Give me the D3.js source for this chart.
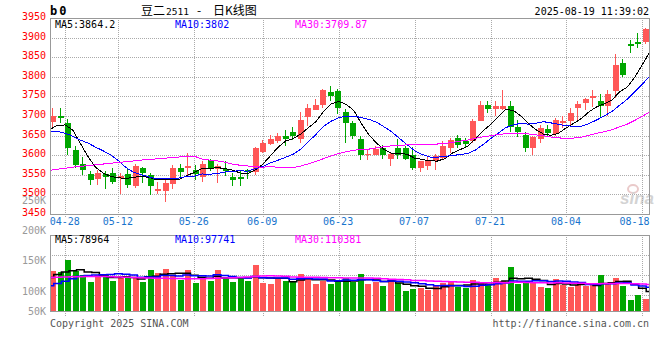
<!DOCTYPE html>
<html>
<head>
<meta charset="utf-8">
<script src="https://cdn.jsdelivr.net/npm/d3@7"></script>
<style>
body { margin: 0; background: #fff; }
svg { display: block; }
</style>
</head>
<body>
<svg width="660" height="360"></svg>
<script>
// trading days shown on the chart
var dates = ["04-24","04-25","04-28","04-29","04-30","05-06","05-07","05-08","05-09","05-12",
  "05-13","05-14","05-15","05-16","05-19","05-20","05-21","05-22","05-23","05-26",
  "05-27","05-28","05-29","05-30","06-03","06-04","06-05","06-06","06-09","06-10",
  "06-11","06-12","06-13","06-16","06-17","06-18","06-19","06-20","06-23","06-24",
  "06-25","06-26","06-27","06-30","07-01","07-02","07-03","07-04","07-07","07-08",
  "07-09","07-10","07-11","07-14","07-15","07-16","07-17","07-18","07-21","07-22",
  "07-23","07-24","07-25","07-28","07-29","07-30","07-31","08-01","08-04","08-05",
  "08-06","08-07","08-08","08-11","08-12","08-13","08-14","08-15","08-18","08-19"];

var open = [3684,3700,3683,3613,3577,3551,3540,3551,3554,3542,
  3551,3521,3567,3549,3509,3509,3525,3567,3566,3562,
  3544,3588,3564,3564,3543,3543,3563,3556,3607,3629,
  3637,3648,3658,3641,3698,3716,3728,3761,3765,3711,
  3683,3642,3601,3601,3618,3590,3619,3619,3601,3568,
  3571,3584,3592,3617,3643,3635,3635,3687,3728,3718,
  3718,3726,3671,3652,3618,3640,3666,3653,3683,3686,
  3720,3734,3746,3737,3726,3763,3835,3884,3888,3889];
var high = [3721,3721,3692,3624,3596,3558,3561,3558,3568,3555,
  3568,3577,3570,3555,3530,3542,3574,3578,3605,3574,
  3586,3591,3576,3586,3554,3562,3565,3621,3639,3652,
  3656,3663,3673,3709,3731,3743,3768,3777,3768,3717,
  3686,3649,3613,3624,3626,3607,3641,3623,3620,3586,
  3596,3603,3637,3643,3652,3643,3693,3737,3739,3739,
  3767,3739,3690,3658,3650,3676,3678,3695,3701,3720,
  3737,3746,3767,3756,3767,3858,3845,3895,3912,3926];
var low = [3673,3681,3601,3566,3549,3523,3524,3512,3525,3500,
  3515,3515,3529,3498,3500,3481,3513,3540,3545,3535,
  3532,3558,3528,3547,3521,3521,3539,3550,3604,3626,
  3631,3624,3639,3632,3675,3714,3721,3738,3705,3632,
  3642,3588,3588,3600,3591,3573,3590,3588,3561,3556,
  3562,3562,3588,3605,3618,3620,3630,3686,3707,3699,
  3714,3658,3646,3607,3600,3630,3648,3650,3669,3673,
  3690,3716,3724,3696,3699,3746,3799,3862,3873,3884];
var close = [3701,3694,3617,3574,3561,3535,3555,3545,3530,3546,
  3523,3572,3555,3520,3514,3529,3567,3556,3573,3552,
  3578,3565,3573,3558,3535,3540,3557,3618,3632,3641,
  3648,3640,3649,3690,3720,3728,3767,3750,3720,3683,
  3650,3601,3603,3616,3601,3602,3601,3590,3567,3584,
  3584,3598,3622,3639,3626,3629,3688,3728,3718,3726,
  3726,3671,3660,3619,3647,3670,3656,3690,3686,3707,
  3730,3743,3751,3726,3756,3831,3805,3880,3885,3923];
var volume = [164000,160000,209000,165000,148000,119000,148000,150000,124000,145000,
  134000,134000,120000,168000,157000,173000,148000,128000,168000,116000,
  134000,124000,169000,134000,120000,134000,124000,189000,116000,111000,
  130000,124000,118000,152000,137000,111000,124000,109000,127000,137000,
  118000,152000,111000,120000,103000,127000,114000,82000,90000,96000,
  86000,107000,116000,118000,97000,96000,127000,118000,111000,137000,
  123000,182000,109000,118000,118000,100000,96000,131000,107000,100000,
  107000,101000,107000,148000,116000,135000,103000,45000,66000,49000];

var ma5Head = [3666, 3676, 3677, 3664];
var ma10Head = [3661, 3660, 3656, 3648, 3638, 3631, 3620, 3611, 3600];
var ma30Head = [3561, 3564, 3566, 3569, 3571, 3573, 3575, 3577, 3579, 3581,
  3583, 3585, 3587, 3589, 3590, 3592, 3593, 3595, 3597, 3597,
  3590, 3587, 3585, 3582, 3577, 3574, 3572, 3570, 3569];
var vma5Head = [137000, 150000, 160000, 165000];
var vma10Head = [104000, 113000, 122000, 132000, 142000, 146000, 148000, 149000, 150000];
var vma30Head = [137000, 138000, 139000, 140000, 140000, 141000, 141000, 141000, 140000, 139000,
  138000, 137000, 136000, 135000, 134000, 134000, 133000, 133000, 132000, 132000,
  132000, 133000, 134000, 135000, 136000, 137000, 139000, 141000, 143000];

var priceTicks = [3450, 3500, 3550, 3600, 3650, 3700, 3750, 3800, 3850, 3900, 3950];
var volTicks = [50000, 100000, 150000, 200000, 250000];
var dateTicks = ["04-28","05-12","05-26","06-09","06-23","07-07","07-21","08-04","08-18"];

var maNames = ["MA5", "MA10", "MA30"];
var maColors = ["#000000", "#0000ff", "#ff00ff"];
var priceMaText = ["3864.2", "3802", "3709.87"];
var volMaText = ["78964", "97741", "110381"];

var mono = '"DejaVu Sans Mono", monospace';
var upColor = "#ff5757";
var downColor = "#00a600";
var gridColor = "#aaaaaa";
var borderColor = "#999999";

var left = 50, right = 650;
var priceTop = 18.2, priceBottom = 213.7;
var volTop = 235, volBottom = 311;

var svg = d3.select("svg");

var xBand = d3.scaleBand().domain(dates).range([left, right]).paddingInner(0.2).paddingOuter(0.1);
var xPoint = d3.scalePoint().domain(dates).range([left, right]);
var yPrice = d3.scaleLinear().domain([3450, 3950]).range([priceBottom, priceTop]);
var yVol = d3.scaleLinear().domain([0, 311600]).range([volBottom, volTop]);
// the volume tick labels sit on their own scale in the original
var yVolLabel = d3.scaleLinear().domain([67000, 250000]).range([314.3, 203.3]).clamp(true);

function movingAvg(values, n, head) {
  return values.map(function(v, i) {
    if (i < n - 1) return head[i];
    return d3.mean(values.slice(i - n + 1, i + 1));
  });
}

var priceMA = [movingAvg(close, 5, ma5Head), movingAvg(close, 10, ma10Head), movingAvg(close, 30, ma30Head)];
var volMA = [movingAvg(volume, 5, vma5Head), movingAvg(volume, 10, vma10Head), movingAvg(volume, 30, vma30Head)];

function isUp(i) { return close[i] >= open[i]; }

// grid
var grid = svg.append("g")
  .attr("stroke", gridColor)
  .attr("stroke-dasharray", "1,1")
  .attr("shape-rendering", "crispEdges");

grid.selectAll("line.h")
  .data(priceTicks.slice(1, -1))
  .join("line")
  .attr("x1", left).attr("x2", right)
  .attr("y1", function(d) { return Math.round(yPrice(d)) + 0.5; })
  .attr("y2", function(d) { return Math.round(yPrice(d)) + 0.5; });

grid.selectAll("line.vh")
  .data([1, 2, 3])
  .join("line")
  .attr("x1", left).attr("x2", right)
  .attr("y1", function(d) { return volTop + d * 20 + 0.5; })
  .attr("y2", function(d) { return volTop + d * 20 + 0.5; });

grid.selectAll("line.v")
  .data(dateTicks)
  .join("line")
  .attr("x1", function(d) { return Math.round(xPoint(d)) + 0.5; })
  .attr("x2", function(d) { return Math.round(xPoint(d)) + 0.5; })
  .attr("y1", priceTop).attr("y2", priceBottom + 4);

grid.selectAll("line.vv")
  .data(dateTicks)
  .join("line")
  .attr("x1", function(d) { return Math.round(xPoint(d)) + 0.5; })
  .attr("x2", function(d) { return Math.round(xPoint(d)) + 0.5; })
  .attr("y1", volTop).attr("y2", volBottom + 6);

// watermark
var logo = svg.append("g").attr("opacity", 0.55);
logo.append("ellipse").attr("cx", 633).attr("cy", 189).attr("rx", 5).attr("ry", 4)
  .attr("fill", "none").attr("stroke", "#d9a0a0").attr("stroke-width", 2);
logo.append("text").attr("x", 620).attr("y", 204)
  .attr("font-family", '"Liberation Sans", sans-serif')
  .attr("font-size", 17).attr("font-weight", "bold").attr("font-style", "italic")
  .attr("fill", "#b0b0b0").text("sina");

// candles
var candles = svg.append("g").attr("shape-rendering", "crispEdges");
candles.selectAll("line")
  .data(dates)
  .join("line")
  .attr("x1", function(d) { return Math.floor(xBand(d)) + 2.5; })
  .attr("x2", function(d) { return Math.floor(xBand(d)) + 2.5; })
  .attr("y1", function(d, i) { return Math.round(yPrice(high[i])); })
  .attr("y2", function(d, i) { return Math.round(yPrice(low[i])); })
  .attr("stroke", function(d, i) { return isUp(i) ? upColor : downColor; });

candles.selectAll("rect")
  .data(dates)
  .join("rect")
  .attr("x", function(d) { return Math.floor(xBand(d)); })
  .attr("width", 6)
  .attr("y", function(d, i) { return Math.round(yPrice(Math.max(open[i], close[i]))); })
  .attr("height", function(d, i) {
    var h = Math.round(yPrice(Math.min(open[i], close[i]))) - Math.round(yPrice(Math.max(open[i], close[i])));
    return Math.max(1, h);
  })
  .attr("fill", function(d, i) { return isUp(i) ? upColor : downColor; });

// price moving averages
var priceLine = d3.line()
  .x(function(d, i) { return xPoint(dates[i]); })
  .y(function(d) { return yPrice(d); });

svg.append("g").selectAll("path")
  .data(priceMA)
  .join("path")
  .attr("d", priceLine)
  .attr("fill", "none")
  .attr("stroke", function(d, i) { return maColors[i]; })
  .attr("stroke-width", 1)
  .attr("shape-rendering", "crispEdges");

// volume bars
svg.append("g").attr("shape-rendering", "crispEdges")
  .selectAll("rect")
  .data(dates)
  .join("rect")
  .attr("x", function(d) { return Math.floor(xBand(d)); })
  .attr("width", 6)
  .attr("y", function(d, i) { return Math.round(yVol(volume[i])); })
  .attr("height", function(d, i) { return volBottom - Math.round(yVol(volume[i])); })
  .attr("fill", function(d, i) { return isUp(i) ? upColor : downColor; });

var volLine = d3.line()
  .curve(d3.curveStep)
  .x(function(d, i) { return xPoint(dates[i]); })
  .y(function(d) { return yVol(d); });

svg.append("g").selectAll("path")
  .data(volMA)
  .join("path")
  .attr("d", volLine)
  .attr("fill", "none")
  .attr("stroke", function(d, i) { return maColors[i]; })
  .attr("stroke-width", 1.5);

// borders
svg.append("g")
  .attr("fill", "none").attr("stroke", borderColor).attr("shape-rendering", "crispEdges")
  .selectAll("rect")
  .data([[priceTop, priceBottom], [volTop, volBottom]])
  .join("rect")
  .attr("x", left + 0.5)
  .attr("width", right - left - 1)
  .attr("y", function(d) { return Math.round(d[0]) + 0.5; })
  .attr("height", function(d) { return Math.round(d[1]) - Math.round(d[0]); });

// axes
var priceAxis = svg.append("g")
  .attr("transform", "translate(" + left + ",0)")
  .call(d3.axisLeft(yPrice).tickValues(priceTicks).tickSize(0).tickPadding(4).tickFormat(d3.format("d")));
priceAxis.select(".domain").remove();
priceAxis.attr("font-family", mono).attr("font-size", 10);
priceAxis.selectAll("text").attr("fill", "#ff0000").attr("dy", "0.15em");

var volAxis = svg.append("g")
  .attr("transform", "translate(" + left + ",0)")
  .call(d3.axisLeft(yVolLabel).tickValues(volTicks).tickSize(0).tickPadding(4)
    .tickFormat(function(d) { return (d / 1000) + "K"; }));
volAxis.select(".domain").remove();
volAxis.attr("font-family", mono).attr("font-size", 10);
volAxis.selectAll("text").attr("fill", "#999999").attr("dy", 0);

var dateAxis = svg.append("g")
  .attr("transform", "translate(0," + priceBottom + ")")
  .call(d3.axisBottom(xPoint).tickValues(dateTicks).tickSize(0).tickPadding(4));
dateAxis.select(".domain").remove();
dateAxis.attr("font-family", mono).attr("font-size", 10);
dateAxis.selectAll("text")
  .attr("fill", "#1874cd")
  .attr("x", -1)
  .each(function(d) {
    var w = this.getComputedTextLength();
    var cx = xPoint(d) - 1;
    if (cx + w / 2 > right - 1) {
      d3.select(this).attr("text-anchor", "end").attr("x", right - 1 - xPoint(d));
    }
  });

// MA legends
svg.append("g").attr("font-family", mono).attr("font-size", 10)
  .selectAll("text")
  .data(maNames)
  .join("text")
  .attr("x", function(d, i) { return 55 + i * 120; })
  .attr("y", 27.5)
  .attr("fill", function(d, i) { return maColors[i]; })
  .text(function(d, i) { return d + ":" + priceMaText[i]; });

svg.append("g").attr("font-family", mono).attr("font-size", 10)
  .selectAll("text")
  .data(maNames)
  .join("text")
  .attr("x", function(d, i) { return 55 + i * 120; })
  .attr("y", 242.5)
  .attr("fill", function(d, i) { return maColors[i]; })
  .text(function(d, i) { return d + ":" + volMaText[i]; });

// header
svg.append("text").attr("x", 50).attr("y", 15)
  .attr("font-family", mono).attr("font-size", 12).attr("font-weight", "bold")
  .attr("letter-spacing", 2).text("b0");

var cjk = '"Noto Sans CJK SC", sans-serif';
svg.append("text").attr("x", 141).attr("y", 15)
  .attr("font-family", cjk).attr("font-size", 12).text("豆二");
svg.append("text").attr("x", 166).attr("y", 15)
  .attr("font-family", mono).attr("font-size", 9.5).text("2511");
svg.append("text").attr("x", 197).attr("y", 15)
  .attr("font-family", cjk).attr("font-size", 12).text("-");
svg.append("text").attr("x", 213).attr("y", 15)
  .attr("font-family", cjk).attr("font-size", 12).text("日K线图");

svg.append("text").attr("x", right - 1).attr("y", 15)
  .attr("text-anchor", "end")
  .attr("font-family", mono).attr("font-size", 10).text("2025-08-19 11:39:02");

// footer
svg.append("text").attr("x", left).attr("y", 327)
  .attr("font-family", mono).attr("font-size", 10).attr("fill", "#555555")
  .text("Copyright 2025 SINA.COM");
svg.append("text").attr("x", right - 1).attr("y", 327)
  .attr("text-anchor", "end")
  .attr("font-family", mono).attr("font-size", 10).attr("fill", "#555555")
  .text("http://finance.sina.com.cn");
</script>
</body>
</html>
